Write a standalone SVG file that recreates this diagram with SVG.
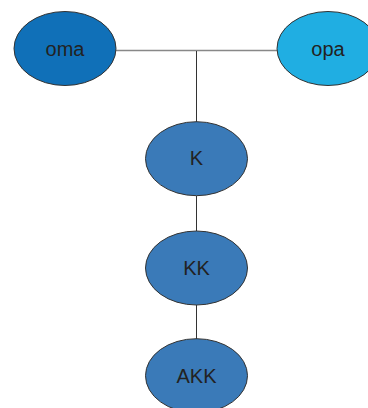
<svg xmlns="http://www.w3.org/2000/svg" width="368" height="408" viewBox="0 0 368 408">
<style>
.n{stroke:#333;stroke-width:1}
.t{font-family:"Liberation Sans",Arial,sans-serif;font-size:20px;fill:#222;text-anchor:middle}
</style>
<rect width="368" height="408" fill="#fff"/>
<g id="connectors">
<line x1="116" y1="50.5" x2="277" y2="50.5" stroke="#888" stroke-width="1.5"/>
<line x1="196.5" y1="51" x2="196.5" y2="122" stroke="#333" stroke-width="1"/>
<line x1="196.5" y1="196" x2="196.5" y2="231" stroke="#333" stroke-width="1"/>
<line x1="196.5" y1="305" x2="196.5" y2="339" stroke="#333" stroke-width="1"/>
</g>
<g id="oma"><ellipse class="n" cx="65" cy="48.5" rx="51" ry="37" fill="#1070b8"/><text class="t" x="65" y="55.5">oma</text></g>
<g id="opa"><ellipse class="n" cx="328" cy="48.5" rx="51" ry="37" fill="#20aee2"/><text class="t" x="328" y="55.5">opa</text></g>
<g id="K"><ellipse class="n" cx="196.5" cy="158.7" rx="51" ry="37" fill="#3a7ab8"/><text class="t" x="196.5" y="165">K</text></g>
<g id="KK"><ellipse class="n" cx="196.5" cy="268" rx="51" ry="37" fill="#3a7ab8"/><text class="t" x="196.5" y="275">KK</text></g>
<g id="AKK"><ellipse class="n" cx="196.5" cy="375.7" rx="51" ry="37" fill="#3a7ab8"/><text class="t" x="196.5" y="383">AKK</text></g>
</svg>
